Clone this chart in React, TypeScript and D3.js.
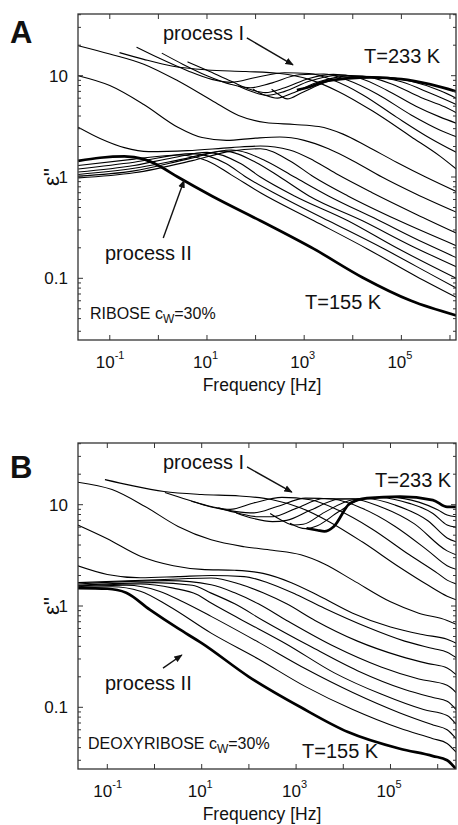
import React from "react";
import * as d3 from "d3";

// each curve: [log10(f / Hz), eps''], from 155 K (first, thick) to 233 K (last, thick)
type Pt = [number, number];

const riboseCurves: Pt[][] = [
  [[-1.65, 1.44], [-1.2, 1.55], [-0.7, 1.6], [-0.3, 1.5], [0, 1.3], [0.4, 1.0], [1.1, 0.65], [2.1, 0.37], [3.2, 0.195], [4.2, 0.102], [5.2, 0.06], [6.13, 0.043]],
  [[-1.65, 1.3], [-0.5, 1.5], [0.4, 1.65], [1.0, 1.45], [1.5, 1.05], [2.1, 0.7], [3.2, 0.37], [4.3, 0.195], [5.3, 0.105], [6.13, 0.065]],
  [[-1.65, 1.2], [-0.5, 1.4], [0.7, 1.7], [1.4, 1.35], [1.8, 1.0], [2.5, 0.65], [3.5, 0.37], [4.6, 0.2], [5.6, 0.11], [6.13, 0.08]],
  [[-1.65, 1.12], [-0.5, 1.3], [0.3, 1.55], [1.0, 1.75], [1.7, 1.35], [2.1, 1.0], [2.8, 0.65], [3.9, 0.37], [4.9, 0.2], [6.13, 0.1]],
  [[-1.65, 1.06], [-0.5, 1.22], [0.5, 1.5], [1.35, 1.8], [2.0, 1.4], [2.5, 1.0], [3.1, 0.65], [4.2, 0.37], [5.2, 0.21], [6.13, 0.13]],
  [[-1.65, 1.02], [-0.5, 1.15], [0.6, 1.5], [1.5, 1.85], [2.2, 1.45], [2.8, 1.0], [3.5, 0.65], [4.5, 0.38], [5.5, 0.22], [6.13, 0.16]],
  [[-1.65, 0.98], [-0.5, 1.1], [0.7, 1.45], [1.5, 1.8], [2.1, 1.9], [2.7, 1.45], [3.2, 1.0], [3.9, 0.65], [4.9, 0.38], [6.13, 0.21]],
  [[-1.65, 3.1], [-1.2, 2.4], [-0.7, 1.95], [-0.2, 1.78], [0.6, 1.82], [1.5, 1.95], [2.1, 2.02], [2.7, 1.85], [3.2, 1.45], [3.7, 1.05], [4.4, 0.7], [5.3, 0.43], [6.13, 0.28]],
  [[-1.65, 10], [-1, 8], [-0.3, 5.2], [0.4, 3.1], [0.9, 2.45], [1.4, 2.3], [2.0, 2.42], [2.5, 2.48], [3.0, 2.3], [3.5, 1.9], [4.0, 1.45], [4.6, 1.0], [5.3, 0.68], [6.13, 0.45]],
  [[-1.65, 19.8], [-1, 16.4], [-0.3, 13], [0.4, 8.9], [1.1, 5.7], [1.65, 4.05], [2.2, 3.45], [2.8, 3.3], [3.3, 3.15], [3.8, 2.65], [4.3, 2.0], [4.9, 1.4], [5.5, 1.0], [6.13, 0.72]],
  [[-0.8, 16.9], [-0.3, 14.5], [0.3, 12.4], [1.0, 11.4], [1.8, 11.0], [2.5, 10.5], [3.1, 9.2], [3.7, 7.0], [4.4, 4.5], [5.2, 2.5], [5.8, 1.6], [6.13, 1.2]],
  [[-0.45, 19.1], [0, 15], [0.6, 11.2], [1.1, 9.2], [1.5, 8.6], [2.0, 9.6], [2.6, 10.7], [3.1, 10.5], [3.6, 9.0], [4.2, 6.5], [4.9, 3.9], [5.6, 2.4], [6.13, 1.75]],
  [[0.07, 16.7], [0.5, 13], [1.0, 10], [1.5, 8.2], [1.9, 7.6], [2.3, 8.4], [2.9, 10.2], [3.4, 10.4], [3.9, 9.0], [4.5, 6.6], [5.2, 4.1], [5.8, 2.9], [6.13, 2.5]],
  [[0.6, 13.7], [1.0, 11.3], [1.5, 8.8], [1.9, 7.3], [2.2, 6.8], [2.6, 7.6], [3.1, 9.4], [3.6, 10.3], [4.1, 9.6], [4.7, 7.2], [5.3, 5.0], [5.8, 3.9], [6.13, 3.4]],
  [[1.64, 7.9], [1.95, 6.9], [2.25, 6.4], [2.6, 7.0], [3.1, 8.8], [3.7, 10.1], [4.2, 9.9], [4.8, 8.3], [5.4, 6.1], [5.9, 4.9], [6.13, 4.3]],
  [[1.95, 7.34], [2.2, 6.4], [2.45, 6.0], [2.75, 6.7], [3.3, 8.7], [3.9, 9.9], [4.4, 9.8], [5.0, 8.7], [5.6, 6.7], [6.13, 5.2]],
  [[2.33, 7.34], [2.5, 6.4], [2.65, 5.9], [2.95, 6.8], [3.5, 8.8], [4.1, 9.7], [4.6, 9.7], [5.2, 8.8], [5.8, 7.1], [6.13, 6.0]],
  [[2.85, 7.2], [3.05, 7.6], [3.4, 8.7], [3.9, 9.4], [4.4, 9.6], [5.0, 9.25], [5.6, 8.2], [6.13, 7.0]],
];

const deoxyriboseCurves: Pt[][] = [
  [[-1.63, 1.5], [-1.0, 1.48], [-0.6, 1.35], [-0.1, 0.92], [0.5, 0.6], [1.0, 0.43], [2.0, 0.2], [3.1, 0.1], [4.1, 0.057], [5.2, 0.039], [5.9, 0.033], [6.2, 0.03], [6.39, 0.0245]],
  [[-1.63, 1.52], [-0.9, 1.55], [-0.3, 1.4], [0.3, 1.0], [1.2, 0.54], [2.2, 0.3], [3.2, 0.16], [4.2, 0.095], [5.2, 0.062], [5.9, 0.049], [6.2, 0.044], [6.39, 0.036]],
  [[-1.63, 1.55], [-0.6, 1.6], [0.1, 1.4], [0.6, 1.1], [1.2, 0.79], [2.2, 0.44], [3.2, 0.24], [4.2, 0.14], [5.2, 0.088], [5.9, 0.067], [6.2, 0.06], [6.39, 0.049]],
  [[-1.63, 1.58], [-0.3, 1.65], [0.4, 1.5], [0.9, 1.3], [1.2, 1.07], [1.8, 0.75], [2.8, 0.42], [3.8, 0.22], [4.8, 0.135], [5.7, 0.095], [6.2, 0.083], [6.39, 0.068]],
  [[-1.63, 1.6], [0, 1.7], [0.8, 1.6], [1.2, 1.34], [1.7, 1.05], [2.3, 0.72], [3.3, 0.4], [4.3, 0.23], [5.3, 0.15], [5.9, 0.125], [6.2, 0.115], [6.39, 0.095]],
  [[-1.63, 1.65], [0.3, 1.78], [1.2, 1.62], [1.7, 1.35], [2.2, 1.05], [2.8, 0.72], [3.8, 0.4], [4.8, 0.25], [5.6, 0.19], [6.2, 0.165], [6.39, 0.14]],
  [[-1.63, 1.7], [0.5, 1.85], [1.2, 1.89], [1.8, 1.65], [2.3, 1.35], [2.8, 1.05], [3.4, 0.72], [4.3, 0.45], [5.2, 0.32], [5.8, 0.27], [6.2, 0.245], [6.39, 0.21]],
  [[-1.63, 2.5], [-1.0, 2.05], [-0.3, 1.9], [0.5, 1.95], [1.2, 2.0], [1.9, 1.95], [2.4, 1.7], [3.0, 1.3], [3.6, 0.95], [4.5, 0.62], [5.3, 0.45], [5.9, 0.38], [6.2, 0.35], [6.39, 0.31]],
  [[-1.63, 6.3], [-1.0, 4.6], [-0.3, 3.1], [0.4, 2.5], [1.0, 2.3], [1.7, 2.25], [2.3, 2.1], [2.9, 1.7], [3.5, 1.25], [4.2, 0.85], [5.0, 0.62], [5.7, 0.52], [6.2, 0.47], [6.39, 0.43]],
  [[-1.63, 16.7], [-0.9, 14.1], [-0.2, 9.6], [0.5, 6.1], [1.2, 4.5], [1.9, 3.85], [2.5, 3.55], [3.1, 3.2], [3.6, 2.6], [4.2, 1.8], [5.0, 1.1], [5.6, 0.85], [6.2, 0.72], [6.39, 0.66]],
  [[-1.05, 17.7], [-0.5, 15.5], [0.2, 13.5], [1.0, 12.6], [1.8, 12.2], [2.5, 11.2], [3.1, 9.3], [3.7, 6.8], [4.4, 4.3], [5.2, 2.4], [5.8, 1.6], [6.2, 1.25], [6.39, 1.15]],
  [[0.22, 13.2], [0.7, 11.2], [1.2, 9.6], [1.6, 9.0], [2.1, 10.4], [2.7, 11.8], [3.3, 11.2], [3.9, 8.8], [4.6, 5.8], [5.4, 3.2], [6.0, 2.1], [6.2, 1.8], [6.39, 1.65]],
  [[0.78, 10.8], [1.2, 9.5], [1.7, 8.6], [2.1, 8.3], [2.6, 9.6], [3.2, 11.6], [3.8, 11.3], [4.4, 9.2], [5.1, 6.1], [5.8, 3.5], [6.2, 2.5], [6.39, 2.3]],
  [[1.35, 9.3], [1.8, 8.2], [2.2, 7.6], [2.5, 7.6], [3.0, 9.2], [3.6, 11.5], [4.2, 11.4], [4.8, 9.5], [5.5, 6.5], [6.2, 3.5], [6.39, 3.2]],
  [[1.73, 8.3], [2.1, 7.3], [2.5, 6.8], [2.8, 7.0], [3.3, 8.8], [3.9, 11.3], [4.5, 11.5], [5.1, 9.9], [5.8, 6.9], [6.2, 4.7], [6.39, 4.3]],
  [[2.45, 8.2], [2.7, 7.0], [2.95, 6.3], [3.15, 6.4], [3.6, 8.4], [4.2, 11.2], [4.8, 11.7], [5.4, 10.3], [5.9, 8.2], [6.2, 6.3], [6.39, 6.0]],
  [[2.87, 6.55], [3.05, 6.0], [3.2, 5.8], [3.45, 6.2], [3.9, 8.5], [4.4, 11.3], [5.0, 11.8], [5.6, 10.6], [6.0, 8.9], [6.2, 7.9], [6.39, 7.6]],
  [[3.22, 5.85], [3.45, 5.6], [3.6, 5.45], [3.8, 6.1], [4.14, 10.3], [4.5, 11.6], [5.2, 12.0], [5.9, 11.1], [6.2, 9.5], [6.39, 9.5]],
];

const yTicks = [0.1, 1, 10];
const yTickLabels = ["0.1", "1", "10"];
const xTickExponents = [-1, 1, 3, 5];

const FONT = "'Liberation Sans', Arial, Helvetica, sans-serif";
const LEFT = 78;
const RIGHT = 456;

interface PanelProps {
  id: string;
  top: number;
  letter: string;
  sample: string;
  curves: Pt[][];
  xLog: [number, number];
  arrowI: [Pt, Pt];
  arrowII: [Pt, Pt];
  labels: { [k: string]: [number, number] };
}

function Panel({ id, top, letter, sample, curves, xLog, arrowI, arrowII, labels }: PanelProps) {
  const bottom = top + 326;
  const x = d3.scaleLog().domain([10 ** xLog[0], 10 ** xLog[1]]).range([LEFT, RIGHT]);
  const y = d3.scaleLog().domain([10 ** -1.609, 10 ** 1.609]).range([bottom, top]);
  const line = d3
    .line<Pt>()
    .x((d) => x(10 ** d[0]))
    .y((d) => y(d[1]))
    .curve(d3.curveMonotoneX);

  const majorX = d3.range(-1, 7).map((e) => 10 ** e).filter((v) => v >= x.domain()[0] && v <= x.domain()[1]);
  const minorY: number[] = [];
  for (let e = -2; e <= 1; e++) {
    for (let m = 2; m <= 9; m++) {
      const v = m * 10 ** e;
      if (v > y.domain()[0] && v < y.domain()[1]) minorY.push(v);
    }
  }
  const frame = "#333";
  const last = curves.length - 1;
  const arrowPath = (a: [Pt, Pt]) =>
    `M${x(10 ** a[0][0])},${y(a[0][1])}L${x(10 ** a[1][0])},${y(a[1][1])}`;

  return (
    <g fontFamily={FONT}>
      <clipPath id={`clip-${id}`}>
        <rect x={LEFT} y={top} width={RIGHT - LEFT} height={bottom - top} />
      </clipPath>
      <g clipPath={`url(#clip-${id})`}>
        {curves.map((c, i) => (
          <path
            key={i}
            d={line(c) || ""}
            fill="none"
            stroke="#000"
            strokeWidth={i === 0 || i === last ? 2.7 : 1.1}
          />
        ))}
      </g>
      {/* frame and ticks */}
      <rect x={LEFT} y={top} width={RIGHT - LEFT} height={bottom - top} fill="none" stroke={frame} strokeWidth={1.3} />
      {majorX.map((v) => (
        <g key={v}>
          <line x1={x(v)} x2={x(v)} y1={bottom} y2={bottom - 5} stroke={frame} />
          <line x1={x(v)} x2={x(v)} y1={top} y2={top + 5} stroke={frame} />
        </g>
      ))}
      {yTicks.map((v) => (
        <g key={v}>
          <line x1={LEFT} x2={LEFT + 5} y1={y(v)} y2={y(v)} stroke={frame} />
          <line x1={RIGHT} x2={RIGHT - 5} y1={y(v)} y2={y(v)} stroke={frame} />
        </g>
      ))}
      {minorY.map((v) => (
        <g key={v}>
          <line x1={LEFT} x2={LEFT + 3} y1={y(v)} y2={y(v)} stroke={frame} />
          <line x1={RIGHT} x2={RIGHT - 3} y1={y(v)} y2={y(v)} stroke={frame} />
        </g>
      ))}
      {yTicks.map((v, i) => (
        <text key={v} x={LEFT - 10} y={y(v) + 6} textAnchor="end" fontSize={17} fill="#111">
          {yTickLabels[i]}
        </text>
      ))}
      {xTickExponents.map((e) => (
        <text key={e} x={x(10 ** e) - 14} y={bottom + 28} fontSize={17} fill="#111">
          10
          <tspan dy={-9} fontSize={11}>
            {e}
          </tspan>
        </text>
      ))}
      <text x={(LEFT + RIGHT) / 2 - 5} y={bottom + 51} textAnchor="middle" fontSize={17.5} fill="#111">
        Frequency [Hz]
      </text>
      <text
        transform={`translate(59,${(top + bottom) / 2}) rotate(-90)`}
        textAnchor="middle"
        fontSize={22}
        fill="#111"
      >
        ε''
      </text>
      <text x={10} y={labels.letter[1]} fontSize={31} fontWeight="bold" fill="#111">
        {letter}
      </text>
      <text x={labels.procI[0]} y={labels.procI[1]} fontSize={20} fill="#111">
        process I
      </text>
      <text x={labels.procII[0]} y={labels.procII[1]} fontSize={20} fill="#111">
        process II
      </text>
      <text x={labels.hot[0]} y={labels.hot[1]} fontSize={20} fill="#111">
        T=233 K
      </text>
      <text x={labels.cold[0]} y={labels.cold[1]} fontSize={20} fill="#111">
        T=155 K
      </text>
      <text x={labels.sample[0]} y={labels.sample[1]} fontSize={16} fill="#111">
        {sample} c
        <tspan dy={4} fontSize={12}>
          W
        </tspan>
        <tspan dy={-4}>=30%</tspan>
      </text>
      <path d={arrowPath(arrowI)} stroke="#111" strokeWidth={1.4} markerEnd="url(#ah)" />
      <path d={arrowPath(arrowII)} stroke="#111" strokeWidth={1.4} markerEnd="url(#ah)" />
    </g>
  );
}

export default function App() {
  return (
    <svg
      width={458}
      height={825}
      style={{ position: "absolute", left: 0, top: 0, background: "#fff" }}
    >
      <defs>
        <marker id="ah" viewBox="0 0 10 10" refX={9} refY={5} markerWidth={6} markerHeight={6} orient="auto">
          <path d="M0,1L10,5L0,9z" fill="#111" />
        </marker>
      </defs>
      <rect width={458} height={825} fill="#fff" />
      <Panel
        id="a"
        top={14}
        letter="A"
        sample="RIBOSE"
        curves={riboseCurves}
        xLog={[-1.654, 6.124]}
        arrowI={[[1.82, 23.6], [2.77, 12.8]]}
        arrowII={[[0.1, 0.25], [0.53, 0.93]]}
        labels={{
          letter: [10, 43],
          procI: [163, 39.5],
          procII: [105, 260],
          hot: [364, 63],
          cold: [305, 309],
          sample: [90, 319],
        }}
      />
      <Panel
        id="b"
        top={443}
        letter="B"
        sample="DEOXYRIBOSE"
        curves={deoxyriboseCurves}
        xLog={[-1.621, 6.388]}
        arrowI={[[1.96, 23.6], [2.91, 13.3]]}
        arrowII={[[0.18, 0.244], [0.58, 0.328]]}
        labels={{
          letter: [10, 478],
          procI: [163, 469],
          procII: [105, 690],
          hot: [375, 487],
          cold: [302, 758],
          sample: [88, 749],
        }}
      />
    </svg>
  );
}
